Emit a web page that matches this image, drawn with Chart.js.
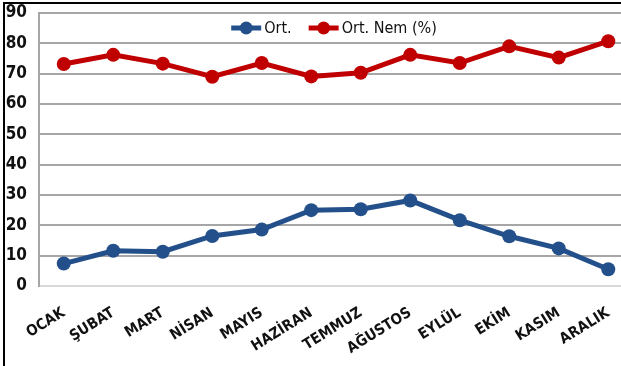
<!DOCTYPE html>
<html>
<head>
<meta charset="utf-8">
<script src="https://cdn.jsdelivr.net/npm/chart.js@4/dist/chart.umd.min.js"></script>
<style>
  html, body { margin: 0; padding: 0; background: #fff; overflow: hidden; }
  #wrap { position: relative; width: 621px; height: 366px; overflow: hidden; }
  .rule { position: absolute; background: #000; pointer-events: none; }
  #topRule { left: 3px; top: 2px; width: 618px; height: 2px; }
  #leftRule { left: 3px; top: 2px; width: 2px; height: 364px; }
  canvas { position: absolute; left: 0; top: 0; }
</style>
</head>
<body>
<div id="wrap">
  <canvas id="c" width="640" height="366"></canvas>
  <div class="rule" id="topRule"></div>
  <div class="rule" id="leftRule"></div>
</div>
<script>
// Months
const months = ['OCAK', 'ŞUBAT', 'MART', 'NİSAN', 'MAYIS', 'HAZİRAN', 'TEMMUZ', 'AĞUSTOS', 'EYLÜL', 'EKİM', 'KASIM', 'ARALIK'];
// Monthly mean temperature (°C)
const ortSicaklik = [7.4, 11.6, 11.3, 16.5, 18.6, 25.0, 25.3, 28.2, 21.7, 16.4, 12.4, 5.5];
// Monthly mean relative humidity (%)
const ortNem = [73.2, 76.2, 73.3, 69.0, 73.5, 69.1, 70.3, 76.2, 73.5, 79.0, 75.3, 80.7];
const seriesNames = ['Ort.', 'Ort. Nem (%)'];
const seriesColors = ['#23508A', '#C00000'];

const FONT = "'Liberation Sans Narrow', 'DejaVu Sans Condensed', 'Liberation Sans', sans-serif";

// Legend drawn inside the plot area: line + circle marker, then the series name
const innerLegend = {
  id: 'innerLegend',
  afterDraw(chart) {
    const ctx = chart.ctx;
    const cy = 28;
    const lineLen = 30, gapText = 3, gapItem = 17;
    ctx.save();
    ctx.font = '16px ' + FONT;
    const items = chart.data.datasets.map(ds => ({
      label: ds.label, color: ds.borderColor,
      w: lineLen + gapText + ctx.measureText(ds.label).width
    }));
    const total = items.reduce((s, it) => s + it.w, 0) + gapItem * (items.length - 1);
    let x = 334 - total / 2;
    items.forEach(it => {
      ctx.strokeStyle = it.color;
      ctx.lineWidth = 5;
      ctx.beginPath();
      ctx.moveTo(x, cy);
      ctx.lineTo(x + lineLen, cy);
      ctx.stroke();
      ctx.fillStyle = it.color;
      ctx.beginPath();
      ctx.arc(x + lineLen / 2, cy, 6.5, 0, Math.PI * 2);
      ctx.fill();
      ctx.fillStyle = '#111';
      ctx.textAlign = 'left';
      ctx.textBaseline = 'middle';
      ctx.fillText(it.label, x + lineLen + gapText, cy + 1);
      x += it.w + gapItem;
    });
    ctx.restore();
  }
};

new Chart(document.getElementById('c'), {
  type: 'line',
  data: {
    labels: months,
    datasets: [
      { label: seriesNames[0], data: ortSicaklik, borderColor: seriesColors[0], backgroundColor: seriesColors[0],
        borderWidth: 5, pointRadius: 7, pointHoverRadius: 7, pointBorderWidth: 0, tension: 0 },
      { label: seriesNames[1], data: ortNem, borderColor: seriesColors[1], backgroundColor: seriesColors[1],
        borderWidth: 5, pointRadius: 7, pointHoverRadius: 7, pointBorderWidth: 0, tension: 0 }
    ]
  },
  options: {
    responsive: false,
    animation: false,
    layout: { padding: { top: 13, right: 1, left: 0, bottom: 0 } },
    plugins: { legend: { display: false }, tooltip: { enabled: false } },
    scales: {
      x: {
        offset: true,
        grid: { display: false, drawTicks: false },
        border: { display: true, color: '#d9d9d9', width: 2 },
        ticks: {
          autoSkip: false, maxRotation: 32, minRotation: 32, padding: 18,
          color: '#111', font: { family: FONT, size: 15, weight: 'bold' }
        },
        afterFit(s) { s.height = 80; s.paddingLeft = 0; s.paddingRight = 0; }
      },
      y: {
        min: 0, max: 90,
        grid: { color: ctx => ctx.tick && ctx.tick.value === 0 ? '#d9d9d9' : '#a6a6a6', lineWidth: 2, drawTicks: false },
        border: { display: true, color: '#a6a6a6', width: 2 },
        ticks: {
          stepSize: 10, padding: 12, color: '#111',
          font: { family: FONT, size: 17, weight: 'bold' }
        },
        afterFit(s) { s.width = 39; s.paddingTop = 0; s.paddingBottom = 0; }
      }
    }
  },
  plugins: [innerLegend]
});
</script>
</body>
</html>
